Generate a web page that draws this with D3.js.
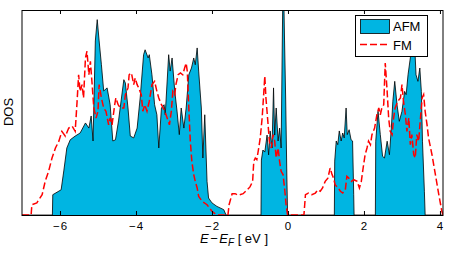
<!DOCTYPE html>
<html>
<head>
<meta charset="utf-8">
<script src="https://cdn.jsdelivr.net/npm/d3@7"></script>
<style>
  body { margin: 0; background: #fff; }
  text { font-family: "Liberation Sans", Arial, sans-serif; }
</style>
</head>
<body>
<div id="chart"></div>
<script>
// AFM total DOS (energy in eV, DOS in arbitrary units)
const afmE = [-7.00, -6.20, -6.19, -5.97, -5.90, -5.82, -5.73, -5.60, -5.47, -5.33, -5.24, -5.18, -5.13, -5.07, -5.02, -4.97, -4.91, -4.85, -4.76, -4.68, -4.61, -4.54, -4.46, -4.32, -4.28, -4.21, -4.15, -4.06, -3.97, -3.89, -3.80, -3.76, -3.68, -3.65, -3.58, -3.51, -3.45, -3.40, -3.33, -3.26, -3.23, -3.14, -3.10, -3.05, -2.98, -2.92, -2.86, -2.81, -2.74, -2.68, -2.61, -2.54, -2.48, -2.44, -2.39, -2.35, -2.28, -2.24, -2.19, -2.13, -2.09, -2.00, -1.87, -1.69, -1.63,
  -0.71, -0.70, -0.66, -0.61, -0.55, -0.51, -0.47, -0.42, -0.38, -0.35, -0.31, -0.26, -0.22, -0.18, -0.14, -0.11, -0.09, -0.06, -0.03, -0.01,
  1.22, 1.23, 1.27, 1.31, 1.35, 1.40, 1.44, 1.48, 1.53, 1.56, 1.61, 1.66, 1.70, 1.73, 1.74,
  2.30, 2.31, 2.37, 2.43, 2.49, 2.54, 2.61, 2.67, 2.72, 2.76, 2.81, 2.87, 2.93, 3.00, 3.07, 3.11, 3.16, 3.22, 3.26, 3.31, 3.37, 3.42, 3.47, 3.51, 3.54, 3.59, 3.61, 4.08];
const afmDos = [0, 0, 0.99, 1.23, 2.15, 3.27, 3.67, 3.85, 4.00, 4.49, 4.24, 4.83, 3.61, 8.49, 9.53, 8.49, 7.33, 6.05, 6.20, 5.38, 3.61, 3.67, 4.59, 6.60, 6.44, 5.22, 3.85, 3.76, 4.24, 5.71, 7.82, 8.06, 7.66, 7.82, 6.84, 5.38, 4.89, 3.27, 5.22, 5.38, 4.89, 7.82, 7.02, 7.66, 6.05, 5.07, 3.92, 5.22, 4.24, 5.22, 6.84, 7.17, 7.66, 7.33, 8.15, 7.02, 5.22, 2.78, 4.89, 1.64, 0.83, 0.59, 0.42, 0.26, 0,
  0, 2.68, 3.17, 3.07, 3.90, 2.93, 4.10, 3.27, 6.20, 3.90, 5.22, 3.61, 4.24, 3.27, 10.0, 10.6, 8.49, 5.61, 1.95, 0,
  0, 2.63, 3.61, 3.43, 4.10, 3.61, 4.00, 3.76, 5.22, 3.92, 4.16, 3.67, 3.61, 0.99, 0,
  0, 3.60, 5.06, 3.92, 2.86, 2.78, 3.60, 2.94, 4.24, 5.55, 6.52, 5.38, 4.57, 5.06, 6.03, 5.87, 6.84, 7.66, 8.47, 9.27, 6.84, 6.52, 7.17, 6.03, 3.60, 1.16, 0, 0];

// FM total DOS
const fmE = [-7.00, -6.76, -6.74, -6.61, -6.47, -6.39, -6.30, -6.21, -6.12, -6.03, -5.95, -5.86, -5.77, -5.68, -5.60, -5.55, -5.51, -5.47, -5.42, -5.38, -5.33, -5.29, -5.24, -5.20, -5.16, -5.11, -5.05, -5.00, -4.97, -4.91, -4.85, -4.79, -4.72, -4.68, -4.63, -4.56, -4.53, -4.47, -4.41, -4.32, -4.28, -4.21, -4.18, -4.12, -4.06, -4.02, -3.97, -3.93, -3.86, -3.82, -3.77, -3.71, -3.65, -3.58, -3.51, -3.45, -3.40, -3.33, -3.24, -3.18, -3.12, -3.07, -3.03, -2.98, -2.95, -2.89, -2.83, -2.77, -2.72, -2.68, -2.65, -2.61, -2.57, -2.53, -2.48, -2.44, -2.39, -2.35, -2.26, -2.13, -2.00, -1.91, -1.87,
  -1.58, -1.55, -1.47, -1.39, -1.31, -1.18, -1.09, -1.00, -0.93, -0.90, -0.86, -0.82, -0.77, -0.73, -0.68, -0.64, -0.61, -0.58, -0.53, -0.49, -0.44, -0.39, -0.35, -0.31, -0.26, -0.22, -0.18, -0.13, -0.09, -0.05, -0.01,
  0.42, 0.46, 0.54, 0.63, 0.72, 0.79, 0.85, 0.91, 0.98, 1.05, 1.11, 1.16, 1.20, 1.24, 1.32, 1.38, 1.44, 1.51, 1.55, 1.60, 1.67, 1.73, 1.82, 1.88, 1.93, 1.99, 2.03, 2.08, 2.12, 2.17, 2.21, 2.28, 2.34, 2.39, 2.43, 2.47, 2.52, 2.56, 2.61, 2.65, 2.69, 2.74, 2.78, 2.82, 2.89, 2.96, 3.00, 3.04, 3.09, 3.13, 3.18, 3.22, 3.26, 3.31, 3.35, 3.39, 3.44, 3.48, 3.53, 3.57, 3.61, 3.66, 3.70, 3.79, 3.88, 3.97, 4.05, 4.08];
const fmDos = [0, 0, 0.50, 0.59, 0.99, 1.64, 2.13, 2.78, 3.27, 3.60, 4.08, 3.84, 4.24, 4.33, 4.08, 5.55, 6.84, 6.03, 6.36, 5.71, 7.66, 7.99, 6.84, 7.50, 6.52, 5.22, 4.73, 5.06, 6.36, 5.71, 5.22, 5.06, 4.40, 4.73, 4.40, 5.38, 5.71, 5.38, 5.22, 5.22, 5.87, 6.20, 6.84, 6.93, 6.36, 6.68, 6.36, 6.20, 5.87, 5.06, 5.38, 5.06, 5.55, 6.36, 6.52, 6.03, 5.71, 5.38, 5.06, 4.73, 4.40, 5.06, 6.03, 5.87, 6.36, 6.84, 6.93, 6.84, 7.17, 7.41, 7.01, 5.22, 3.60, 2.62, 1.97, 1.64, 1.32, 0.91, 0.67, 0.50, 0.18, 0.05, 0,
  0, 0.50, 1.04, 1.04, 0.96, 1.04, 1.20, 1.37, 1.64, 2.62, 2.78, 2.70, 3.27, 3.76, 4.73, 5.87, 6.77, 5.71, 4.57, 3.60, 3.27, 3.92, 3.60, 2.78, 3.27, 2.62, 2.13, 1.97, 1.32, 0.50, 0,
  0, 0.99, 1.07, 0.99, 1.07, 1.23, 1.16, 1.32, 1.64, 1.80, 2.29, 1.97, 1.80, 1.48, 1.32, 1.16, 1.07, 1.23, 1.89, 1.80, 1.64, 1.72, 1.64, 1.32, 1.64, 2.45, 2.94, 3.27, 3.60, 3.43, 3.92, 4.24, 4.89, 5.22, 4.89, 5.22, 5.38, 7.41, 6.03, 4.73, 4.08, 3.92, 4.73, 5.22, 5.55, 5.71, 6.36, 5.55, 4.89, 4.08, 4.73, 3.43, 3.92, 2.94, 2.78, 3.92, 3.60, 4.57, 5.71, 5.87, 5.06, 4.40, 3.76, 2.94, 1.97, 0.99, 0.18, 0];

const xTicks = [-6, -4, -2, 0, 2, 4];
const seriesNames = ["AFM", "FM"];

const width = 450, height = 254;
const margin = {top: 10, right: 7, bottom: 39, left: 22};

const svg = d3.select("#chart").append("svg")
  .attr("width", width)
  .attr("height", height);

const x = d3.scaleLinear().domain([-7, 4.08]).range([margin.left, width - margin.right]);
const y = d3.scaleLinear().domain([0, 10]).range([height - margin.bottom, margin.top]);

const afm = afmE.map((e, i) => ({e: e, d: afmDos[i]}));
const fm = fmE.map((e, i) => ({e: e, d: fmDos[i]}));

svg.append("clipPath").attr("id", "clip")
  .append("rect")
  .attr("x", margin.left).attr("y", margin.top)
  .attr("width", width - margin.left - margin.right)
  .attr("height", height - margin.top - margin.bottom);

const plot = svg.append("g").attr("clip-path", "url(#clip)");

// AFM filled area
plot.append("path")
  .datum(afm)
  .attr("fill", "#00b5e2")
  .attr("d", d3.area().x(d => x(d.e)).y0(y(0)).y1(d => y(d.d)));

plot.append("path")
  .datum(afm)
  .attr("fill", "none")
  .attr("stroke", "#000")
  .attr("stroke-width", 0.8)
  .attr("d", d3.line().x(d => x(d.e)).y(d => y(d.d)));

// FM dashed line
plot.append("path")
  .datum(fm)
  .attr("fill", "none")
  .attr("stroke", "#ff0000")
  .attr("stroke-width", 1.5)
  .attr("stroke-dasharray", "7,3")
  .attr("d", d3.line().x(d => x(d.e)).y(d => y(d.d)));

// Axes: ticks inward on top and bottom
const xAxis = d3.axisBottom(x).tickValues(xTicks).tickSizeInner(-4).tickSizeOuter(0)
  .tickPadding(7).tickFormat(d => d3.format("d")(d).replace("-", "\u2212"));
const gx = svg.append("g")
  .attr("transform", `translate(0,${height - margin.bottom})`)
  .call(xAxis);
gx.select(".domain").remove();
gx.selectAll("text")
  .attr("fill", "#000")
  .style("font-size", "11.5px")
  .style("letter-spacing", "1px")
  .style("font-family", "'Liberation Sans', Arial, sans-serif");

const xAxisTop = d3.axisTop(x).tickValues(xTicks).tickSizeInner(-4).tickSizeOuter(0).tickFormat("");
const gxt = svg.append("g")
  .attr("transform", `translate(0,${margin.top})`)
  .call(xAxisTop);
gxt.select(".domain").remove();

// Frame
svg.append("rect")
  .attr("x", margin.left).attr("y", margin.top + 0.5)
  .attr("width", width - margin.left - margin.right)
  .attr("height", height - margin.top - margin.bottom)
  .attr("fill", "none")
  .attr("stroke", "#000")
  .attr("stroke-width", 1);

// Axis labels
const xl = svg.append("text")
  .attr("x", 234)
  .attr("y", 243)
  .attr("text-anchor", "middle")
  .style("font-size", "13px");
xl.append("tspan").style("font-style", "italic").text("E");
xl.append("tspan").attr("dx", 1.5).text("\u2212");
xl.append("tspan").attr("dx", 1.5).style("font-style", "italic").text("E");
xl.append("tspan").style("font-style", "italic").style("font-size", "10px").attr("dy", 3).text("F");
xl.append("tspan").attr("dy", -3).text(" [ eV ]");

svg.append("text")
  .attr("transform", "translate(13,112) rotate(-90)")
  .attr("text-anchor", "middle")
  .style("font-size", "13px")
  .text("DOS");

// Legend
const lg = svg.append("g");
lg.append("rect")
  .attr("x", 355.5).attr("y", 15.5).attr("width", 72).attr("height", 41)
  .attr("fill", "#fff").attr("stroke", "#000").attr("stroke-width", 1);
lg.append("rect")
  .attr("x", 360.5).attr("y", 19.5).attr("width", 29).attr("height", 14)
  .attr("fill", "#00b5e2").attr("stroke", "#000").attr("stroke-width", 0.8);
lg.append("line")
  .attr("x1", 360).attr("x2", 389).attr("y1", 44.5).attr("y2", 44.5)
  .attr("stroke", "#ff0000").attr("stroke-width", 1.5).attr("stroke-dasharray", "7,3");
lg.selectAll("text.leg")
  .data(seriesNames)
  .enter().append("text")
  .attr("class", "leg")
  .attr("x", 393)
  .attr("y", (d, i) => 31 + i * 19)
  .style("font-size", "13px")
  .text(d => d);
</script>
</body>
</html>
